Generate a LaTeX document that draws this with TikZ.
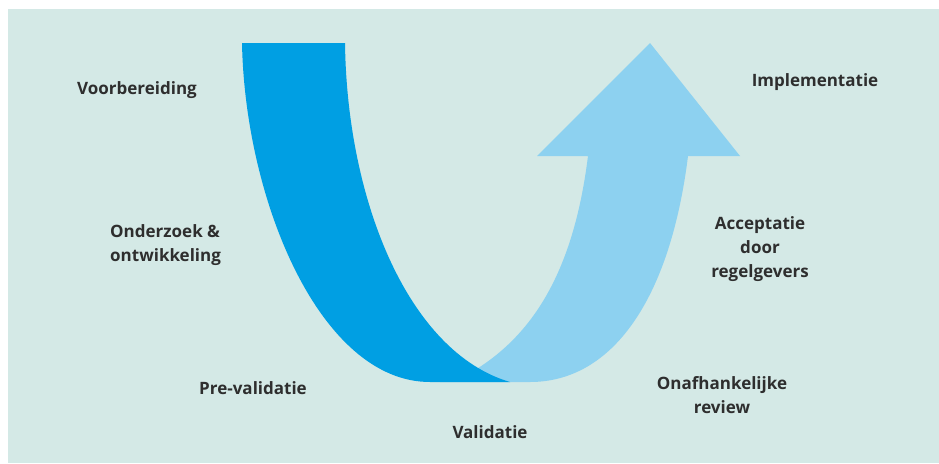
\documentclass[tikz,border=0pt]{standalone}
\usepackage{fontspec}
\setmainfont{Open Sans}
\begin{document}
\definecolor{panel}{HTML}{D4E9E6}
\definecolor{deepblue}{HTML}{009FE3}
\definecolor{paleblue}{HTML}{8DD1F0}
\definecolor{labelgray}{HTML}{2E2E2E}
\begin{tikzpicture}[x=1pt,y=-1pt,
  phase/.style={inner sep=0pt, text=labelgray, font=\fontsize{17}{24}\selectfont\bfseries},
  blockleft/.style={phase, align=left},
  blockmid/.style={phase, align=center}]
  \useasboundingbox (0,0) rectangle (939,463);
  % background panel
  \fill[panel] (8,9) rectangle (939,463);

  % rising arrow (drawn first, its tail runs under the descending band)
  \fill[paleblue]
    (650,43) -- (740,156) -- (688,156)
    .. controls (670,300) and (612,382) .. (530,382)
    -- (440,382) -- (475,370)
    .. controls (540,330) and (575,260) .. (588,156)
    -- (537,156) -- cycle;

  % descending band
  \fill[deepblue]
    (242,43) -- (345,43)
    .. controls (347,200) and (408,352) .. (510,382)
    -- (430,382)
    .. controls (320,382) and (245,200) .. (242,43) -- cycle;

  % phase labels
  \node[phase, anchor=west] (prep) at (77,90) {Voorbereiding};
  \node[blockleft, anchor=west] (rnd) at (110,245) {Onderzoek \&\\ontwikkeling};
  \node[phase] (preval) at (253,388) {Pre-validatie};
  \node[phase] (val) at (490,432) {Validatie};
  \node[blockmid] (review) at (722,395) {Onafhankelijke\\review};
  \node[blockmid] (accept) at (760,249) {Acceptatie\\door\\regelgevers};
  \node[phase] (impl) at (815,82) {Implementatie};
\end{tikzpicture}
\end{document}
